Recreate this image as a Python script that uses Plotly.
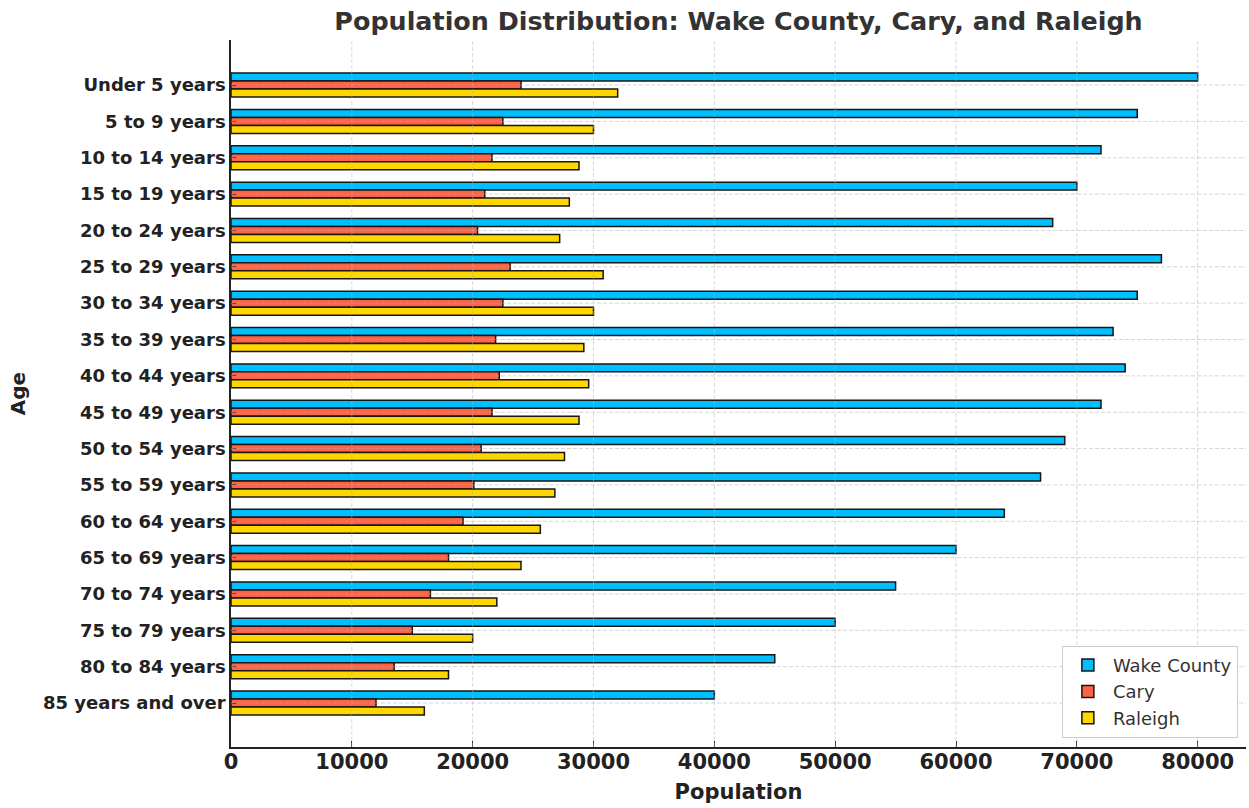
import plotly.graph_objects as go

# Age groups, top to bottom
age_groups = [
    "Under 5 years", "5 to 9 years", "10 to 14 years", "15 to 19 years",
    "20 to 24 years", "25 to 29 years", "30 to 34 years", "35 to 39 years",
    "40 to 44 years", "45 to 49 years", "50 to 54 years", "55 to 59 years",
    "60 to 64 years", "65 to 69 years", "70 to 74 years", "75 to 79 years",
    "80 to 84 years", "85 years and over",
]

wake_county = [80000, 75000, 72000, 70000, 68000, 77000, 75000, 73000, 74000,
               72000, 69000, 67000, 64000, 60000, 55000, 50000, 45000, 40000]
cary = [24000, 22500, 21600, 21000, 20400, 23100, 22500, 21900, 22200,
        21600, 20700, 20100, 19200, 18000, 16500, 15000, 13500, 12000]
raleigh = [32000, 30000, 28800, 28000, 27200, 30800, 30000, 29200, 29600,
           28800, 27600, 26800, 25600, 24000, 22000, 20000, 18000, 16000]

x_tick_values = [0, 10000, 20000, 30000, 40000, 50000, 60000, 70000, 80000]
x_tick_labels = [str(v) for v in x_tick_values]

series = [
    ("Wake County", wake_county, "#00BFFF"),
    ("Cary", cary, "#FF6347"),
    ("Raleigh", raleigh, "#FFD700"),
]

FONT = "DejaVu Sans"

fig = go.Figure()
for name, values, color in series:
    fig.add_trace(go.Bar(
        y=age_groups, x=values, name=name, orientation="h",
        marker=dict(color=color, line=dict(color="#161616", width=1.5)),
    ))

# dashed grid drawn over the bars
grid_line = dict(color="rgba(175,175,175,0.5)", width=1, dash="4px,2px")
for v in x_tick_values[1:]:
    fig.add_shape(type="line", xref="x", yref="paper", x0=v, x1=v, y0=0, y1=1,
                  line=grid_line, layer="above")
for cat in age_groups:
    fig.add_shape(type="line", xref="paper", yref="y", x0=0, x1=1, y0=cat, y1=cat,
                  line=grid_line, layer="above")

fig.update_layout(
    width=1249, height=808,
    margin=dict(l=231, r=3, t=40, b=61, autoexpand=False),
    plot_bgcolor="white", paper_bgcolor="white",
    font=dict(family=FONT, color="#222222"),
    barmode="group", bargap=0.34, bargroupgap=0,
    title=dict(
        text="Population Distribution: Wake County, Cary, and Raleigh",
        font=dict(family=FONT, size=25.4, color="#333333", weight="bold"),
        x=0.5, xref="paper", xanchor="center",
        y=1 - 21 / 808, yref="container", yanchor="middle",
    ),
    legend=dict(
        x=0.992, y=0.013, xanchor="right", yanchor="bottom",
        traceorder="normal", itemwidth=40,
        bgcolor="white", bordercolor="#cccccc", borderwidth=1,
        font=dict(family=FONT, size=18, color="#333333"),
    ),
    showlegend=True,
)

fig.update_xaxes(
    range=[0, 84000],
    tickvals=x_tick_values, ticktext=x_tick_labels,
    ticks="inside", ticklen=6, tickwidth=1.2, tickcolor="#333333",
    ticklabelstandoff=-5,
    showline=True, linecolor="#222222", linewidth=1.6,
    showgrid=False, zeroline=False,
    tickfont=dict(family=FONT, size=21, color="#222222", weight="bold"),
    title=dict(text="Population", standoff=11,
               font=dict(family=FONT, size=21, color="#222222", weight="bold")),
    automargin=False,
)
fig.update_yaxes(
    range=[18.21, -1.24],
    ticks="inside", ticklen=5, tickwidth=1.2, tickcolor="#333333",
    showline=True, linecolor="#222222", linewidth=1.6,
    showgrid=False, zeroline=False,
    tickfont=dict(family=FONT, size=18, color="#222222", weight="bold"),
    title=dict(text="Age", standoff=12,
               font=dict(family=FONT, size=20, color="#222222", weight="bold")),
    automargin=False,
)

fig.write_html("out.html")
